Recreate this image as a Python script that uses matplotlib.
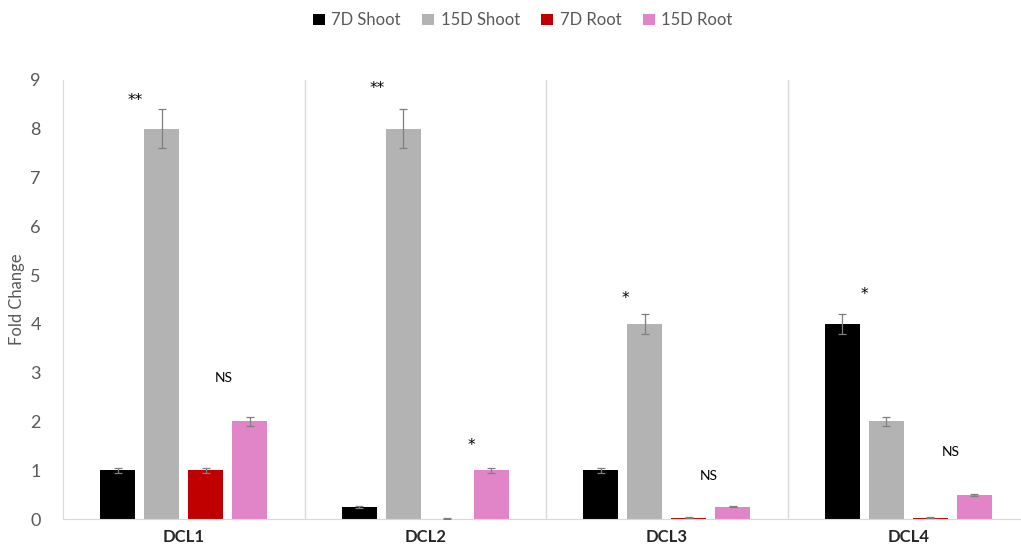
import numpy as np
import matplotlib.pyplot as plt

plt.rcParams['font.family'] = ['Lato', 'DejaVu Sans']

genes = ["DCL1", "DCL2", "DCL3", "DCL4"]
series = ["7D Shoot", "15D Shoot", "7D Root", "15D Root"]
colors = ["#000000", "#b3b3b3", "#c00000", "#e284c8"]

values = [
    [1.0, 0.25, 1.0, 4.0],     # 7D Shoot
    [8.0, 8.0, 4.0, 2.0],      # 15D Shoot
    [1.0, 0.01, 0.03, 0.03],   # 7D Root
    [2.0, 1.0, 0.25, 0.5],     # 15D Root
]
errors = [
    [0.05, 0.02, 0.05, 0.2],
    [0.4, 0.4, 0.2, 0.1],
    [0.05, 0.005, 0.005, 0.005],
    [0.1, 0.05, 0.01, 0.02],
]

# significance labels: (gene index, x offset, y, text)
sig_labels = [
    (0, -0.20, 8.7, "**"), (0, 0.165, 2.9, "NS"),
    (1, -0.20, 8.95, "**"), (1, 0.19, 1.62, "*"),
    (2, -0.17, 4.65, "*"), (2, 0.175, 0.88, "NS"),
    (3, -0.18, 4.73, "*"), (3, 0.175, 1.38, "NS"),
]

fig = plt.figure(figsize=(10.21, 5.52), dpi=100)
ax = fig.add_axes([63/1021, 33/552, 966/1021, 439/552])

x = np.arange(len(genes))
width = 0.145
step = 0.182
for i, name in enumerate(series):
    pos = x + (i - 1.5) * step
    ax.bar(pos, values[i], width, color=colors[i], label=name, zorder=2)
    ax.errorbar(pos, values[i], yerr=errors[i], fmt='none', ecolor='#7f7f7f',
                elinewidth=0.9, capsize=3, capthick=0.9, zorder=3)

for g, dx, y, txt in sig_labels:
    if txt == "NS":
        ax.text(g + dx, y, txt, ha='center', va='center', fontsize=10, color='black')
    else:
        # asterisks sit high in the glyph box, so nudge them down
        ax.text(g + dx, y - 0.12, txt, ha='center', va='center', fontsize=11,
                color='black', family='DejaVu Sans')

ax.set_xlim(-0.5, 3.5)
ax.set_ylim(0, 9)
ax.set_yticks(range(10))
ax.set_xticks(x)
ax.set_xticklabels(genes, fontweight='bold', fontsize=12, color='#262626')
ax.tick_params(axis='both', length=0)
ax.tick_params(axis='y', labelsize=13, labelcolor='#595959', pad=16)
ax.tick_params(axis='x', pad=7)
ax.set_ylabel("Fold Change", fontsize=12, color='#595959', labelpad=4)

for xs in [0.5, 1.5, 2.5]:
    ax.axvline(xs, color='#d9d9d9', linewidth=1, zorder=1)
for side in ['top', 'right']:
    ax.spines[side].set_visible(False)
ax.spines['left'].set_color('#d9d9d9')
ax.spines['bottom'].set_color('#d9d9d9')

fig.legend(loc='upper center', bbox_to_anchor=(0.512, 1.005), ncol=4, frameon=False,
           fontsize=12, labelcolor='#595959', handlelength=0.7, handleheight=0.7,
           handletextpad=0.4, columnspacing=1.3)

fig.savefig("out.png", dpi=100)
